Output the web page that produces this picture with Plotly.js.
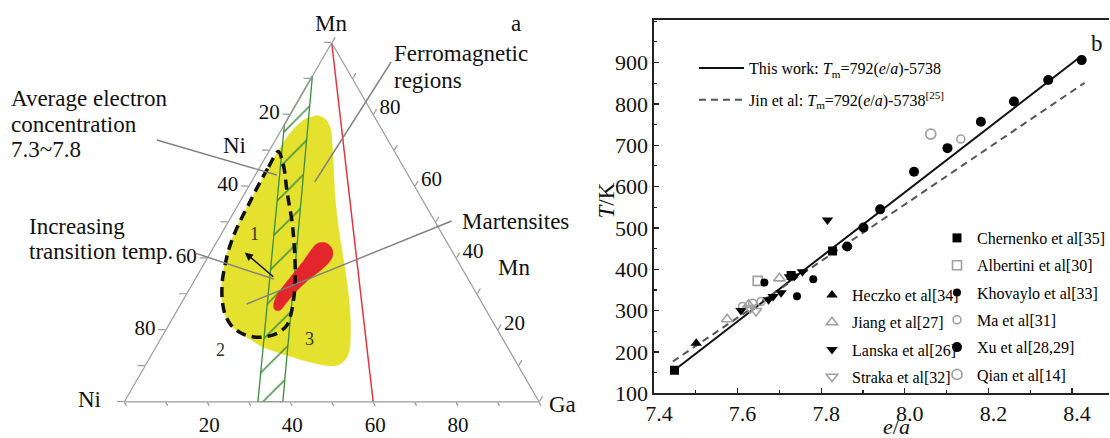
<!DOCTYPE html>
<html><head><meta charset="utf-8">
<script src="https://cdn.plot.ly/plotly-3.0.1.min.js"></script>
<style>html,body{margin:0;padding:0;background:#fff}#chart{width:1110px;height:438px}</style>
</head><body><div id="chart"></div>
<script>
// ================= Panel a : Ni-Mn-Ga ternary (at.%) =================
const ternTickVals = [0,10,20,30,40,50,60,70,80,90,100];
const ternTickText = ['','','80','','60','','40','','20','',''];

const yellowMn = [79.7,78.9,76.4,71.6,64.7,57.7,52.1,45.1,38.1,32.0,24.8,18.6,13.9,11.1,10.1,10.5,11.6,13.5,15.5,17.2,19.2,21.7,25.0,29.2,34.5,40.9,46.0,50.7,54.6,59.6,64.7,69.4,72.7,76.1,78.9];
const yellowGa = [6.4,8.8,11.4,14.3,18.1,21.9,25.2,29.5,34.0,37.8,42.0,45.2,47.2,47.2,45.8,41.8,37.3,31.1,25.3,22.1,18.2,14.6,11.6,8.9,6.4,4.2,3.2,2.6,2.5,2.3,2.2,2.2,2.3,2.9,4.4];

const bandMn = [0,77.2,90.7,0,0];
const bandGa = [32.2,0,0,38.2,32.2];

const redMn = [44.1,44.3,43.0,41.2,39.3,36.8,34.0,30.6,27.7,25.5,25.7,27.5,30.3,32.6,35.8,39.3,42.3,44.1];
const redGa = [24.5,26.3,28.4,29.7,30.0,29.1,27.4,26.0,25.3,24.7,23.4,22.3,22.0,22.3,22.9,23.6,23.9,24.5];

const loopMn = [69.7,64.9,59.9,54.9,51.0,47.1,42.3,37.9,33.4,28.4,24.5,21.4,19.2,18.1,18.2,19.3,21.3,23.9,28.4,34.0,39.5,45.1,50.1,55.2,59.6,64.1,67.4,69.7];
const loopGa = [2.3,2.1,2.2,2.5,2.7,3.1,4.0,5.3,6.9,9.4,12.0,15.0,18.5,22.2,25.2,27.5,28.5,28.1,26.6,24.2,21.4,18.3,15.4,12.1,9.3,6.6,4.3,2.3];

const redLineMn = [100,0];
const redLineGa = [0,60];

// ================= Panel b : T vs e/a =================
const fitX = [7.45, 8.42],  fitY = [157, 914];
const jinX = [7.445, 8.43], jinY = [177, 851];

const chernenkoX = [7.449, 7.728, 7.827];            const chernenkoY = [156, 385, 444];
const albertiniX = [7.648];                          const albertiniY = [372];
const khovayloX  = [7.664, 7.742, 7.781];            const khovayloY  = [368, 335, 376];
const maX        = [7.612, 7.636, 7.656, 8.134];     const maY        = [310, 318, 322, 715];
const xuX = [7.862, 7.901, 7.941, 8.022, 8.102, 8.182, 8.261, 8.343, 8.423];
const xuY = [455, 501, 545, 636, 693, 757, 806, 858, 906];
const qianX      = [8.062];                          const qianY      = [727];
const heczkoX    = [7.501];                          const heczkoY    = [221];
const jiangX     = [7.575, 7.626, 7.700];            const jiangY     = [279, 314, 378];
const lanskaX = [7.608, 7.674, 7.685, 7.704, 7.724, 7.736, 7.755, 7.815];
const lanskaY = [300, 326, 334, 343, 382, 384, 394, 519];
const strakaX    = [7.630, 7.644];                   const strakaY    = [306, 299];

const xTickVals = [7.4, 7.6, 7.8, 8.0, 8.2, 8.4];
const xTickText = ['7.4','7.6','7.8','8.0','8.2','8.4'];
const yTickVals = [100, 200, 300, 400, 500, 600, 700, 800, 900];
const yTickText = ['100','200','300','400','500','600','700','800','900'];

// ---------------------------------------------------
const SERIF = 'Liberation Serif';
const W = 1110, H = 438;
const PX = p => p / W, PY = p => 1 - p / H;
const cartX = (ga, mn) => ga.map((g, i) => g + mn[i] / 2);
const niOf = (ga, mn) => ga.map((g, i) => 100 - g - mn[i]);

const ternDomX = [PX(124.5), PX(539.5)];
const ternDomY = [PY(402), PY(42.5)];

const GRAY = '#9a9a9a';
const OPEN = '#a0a0a0';

const traces = [
  {type:'scatter', x:cartX(yellowGa,yellowMn), y:yellowMn, xaxis:'x2', yaxis:'y2', mode:'lines',
   fill:'toself', fillcolor:'#e4e12f', line:{color:'#e4e12f', width:0.5, shape:'spline', smoothing:1},
   showlegend:false, hoverinfo:'skip'},
  {type:'scatter', x:cartX(bandGa,bandMn), y:bandMn, xaxis:'x2', yaxis:'y2', mode:'lines',
   fill:'toself', fillcolor:'rgba(0,0,0,0)',
   fillpattern:{shape:'/', fgcolor:'#3c8c3c', size:22, solidity:0.07},
   line:{color:'#3c8c3c', width:1.3}, showlegend:false, hoverinfo:'skip'},
  {type:'scatter', x:cartX(redGa,redMn), y:redMn, xaxis:'x2', yaxis:'y2', mode:'lines',
   fill:'toself', fillcolor:'#e2262c', line:{color:'#e2262c', width:0.5, shape:'spline', smoothing:1},
   showlegend:false, hoverinfo:'skip'},
  {type:'scatter', x:cartX(loopGa,loopMn), y:loopMn, xaxis:'x2', yaxis:'y2', mode:'lines',
   line:{color:'#111', width:3.5, dash:'10px,6px', shape:'spline', smoothing:1},
   showlegend:false, hoverinfo:'skip'},
  {type:'scatterternary', a:redLineMn, b:niOf(redLineGa,redLineMn), c:redLineGa, mode:'lines',
   line:{color:'#e8343e', width:1.5}, showlegend:false, hoverinfo:'skip'},

  // panel b lines
  {type:'scatter', x:fitX, y:fitY, mode:'lines', line:{color:'#111', width:2},
   name:'This work: <i>T</i><sub>m</sub>=792(<i>e</i>/<i>a</i>)-5738', legend:'legend', legendgroup:'g1'},
  {type:'scatter', x:jinX, y:jinY, mode:'lines', line:{color:'#555', width:2, dash:'7px,5px'},
   name:'Jin et al: <i>T</i><sub>m</sub>=792(<i>e</i>/<i>a</i>)-5738<sup>[25]</sup>', legend:'legend', legendgroup:'g2'},

  // right legend column
  {type:'scatter', mode:'markers', x:chernenkoX, y:chernenkoY, name:'Chernenko et al[35]',
   marker:{symbol:'square', size:9, color:'#000'}, legend:'legend3', legendgroup:'c1'},
  {type:'scatter', mode:'markers', x:albertiniX, y:albertiniY, name:'Albertini et al[30]',
   marker:{symbol:'square-open', size:9, color:OPEN, line:{width:1.6}}, legend:'legend3', legendgroup:'c2'},
  {type:'scatter', mode:'markers', x:khovayloX, y:khovayloY, name:'Khovaylo et al[33]',
   marker:{symbol:'circle', size:8, color:'#000'}, legend:'legend3', legendgroup:'c3'},
  {type:'scatter', mode:'markers', x:maX, y:maY, name:'Ma et al[31]',
   marker:{symbol:'circle-open', size:8, color:OPEN, line:{width:1.6}}, legend:'legend3', legendgroup:'c4'},
  {type:'scatter', mode:'markers', x:xuX, y:xuY, name:'Xu et al[28,29]',
   marker:{symbol:'circle', size:10, color:'#000'}, legend:'legend3', legendgroup:'c5'},
  {type:'scatter', mode:'markers', x:qianX, y:qianY, name:'Qian et al[14]',
   marker:{symbol:'circle-open', size:10, color:OPEN, line:{width:1.8}}, legend:'legend3', legendgroup:'c6'},

  // left legend column
  {type:'scatter', mode:'markers', x:heczkoX, y:heczkoY, name:'Heczko et al[34]',
   marker:{symbol:'triangle-up', size:10, color:'#000'}, legend:'legend2', legendgroup:'l1'},
  {type:'scatter', mode:'markers', x:jiangX, y:jiangY, name:'Jiang et al[27]',
   marker:{symbol:'triangle-up-open', size:10, color:OPEN, line:{width:1.6}}, legend:'legend2', legendgroup:'l2'},
  {type:'scatter', mode:'markers', x:lanskaX, y:lanskaY, name:'Lanska et al[26]',
   marker:{symbol:'triangle-down', size:10, color:'#000'}, legend:'legend2', legendgroup:'l3'},
  {type:'scatter', mode:'markers', x:strakaX, y:strakaY, name:'Straka et al[32]',
   marker:{symbol:'triangle-down-open', size:10, color:OPEN, line:{width:1.6}}, legend:'legend2', legendgroup:'l4'}
];

const ternAxis = (len) => ({
  min:0, tickmode:'array', tickvals:ternTickVals, ticktext:ternTickText,
  ticks:'outside', ticklen:len, tickwidth:1.2, tickcolor:GRAY,
  showline:true, linecolor:GRAY, linewidth:1.2, showgrid:false,
  tickfont:{family:SERIF, size:21, color:'#111'}, title:{text:''}
});

const ann = (text, px, py, o = {}) => Object.assign({
  text, x:PX(px), y:PY(py), xref:'paper', yref:'paper', showarrow:false,
  xanchor:'left', yanchor:'middle', font:{family:SERIF, size:23, color:'#111'}
}, o);
const C = {xanchor:'center'};
const line = (x0, y0, x1, y1, color = '#808080') => ({
  type:'line', xref:'paper', yref:'paper', x0:PX(x0), y0:PY(y0), x1:PX(x1), y1:PY(y1),
  line:{color, width:1.4}
});
const small = {xanchor:'center', font:{family:SERIF, size:18, color:'#333'}};

const legendBase = {xanchor:'left', yanchor:'top', bgcolor:'rgba(0,0,0,0)', borderwidth:0,
  font:{family:SERIF, size:16, color:'#000'}, traceorder:'grouped'};

const axisFont = {family:SERIF, size:22, color:'#111'};

const layout = {
  width:W, height:H, margin:{l:0, r:0, t:0, b:0},
  paper_bgcolor:'#fff', plot_bgcolor:'rgba(0,0,0,0)',
  font:{family:SERIF, color:'#111'},
  showlegend:true,
  ternary:{domain:{x:ternDomX, y:ternDomY}, sum:100, bgcolor:'rgba(0,0,0,0)',
    aaxis:ternAxis(7), baxis:ternAxis(4), caxis:ternAxis(6)},
  xaxis2:{domain:ternDomX, range:[0,100], visible:false, anchor:'y2', fixedrange:true},
  yaxis2:{domain:ternDomY, range:[0,100], visible:false, anchor:'x2', fixedrange:true},
  xaxis:{domain:[PX(654.6), 1], range:[7.4, 8.4884], anchor:'y',
    showline:true, linecolor:'#222', linewidth:1.6, mirror:true, showgrid:false, zeroline:false,
    tickmode:'array', tickvals:xTickVals, ticktext:xTickText,
    ticks:'inside', ticklen:5, tickwidth:1.3, tickcolor:'#222',
    minor:{dtick:0.1, tick0:7.4, ticks:'inside', ticklen:3, tickwidth:1.1, tickcolor:'#222'},
    tickfont:axisFont, ticklabelshift:5},
  yaxis:{domain:[PY(393.3), PY(20)], range:[100, 1003], anchor:'x',
    showline:true, linecolor:'#222', linewidth:1.6, showgrid:false, zeroline:false,
    tickmode:'array', tickvals:yTickVals, ticktext:yTickText,
    ticks:'inside', ticklen:5, tickwidth:1.3, tickcolor:'#222',
    minor:{dtick:50, tick0:100, ticks:'inside', ticklen:3, tickwidth:1.1, tickcolor:'#222'},
    tickfont:axisFont},
  legend:Object.assign({}, legendBase, {x:PX(694), y:PY(51), itemwidth:45, tracegroupgap:8}),
  legend2:Object.assign({}, legendBase, {x:PX(812), y:PY(278), tracegroupgap:3.5}),
  legend3:Object.assign({}, legendBase, {x:PX(938), y:PY(221), tracegroupgap:3.5}),
  shapes:[
    line(157, 140, 277, 175),
    line(391.5, 62, 315, 182),
    line(452, 221, 247, 304),
    line(196, 253.3, 274, 279)
  ],
  annotations:[
    ann('Average electron', 9, 98.3),
    ann('concentration', 9, 124),
    ann('7.3~7.8', 9, 149.3),
    ann('Ferromagnetic', 392.5, 53.3),
    ann('regions', 392.5, 80),
    ann('Martensites', 460, 221.7),
    ann('Increasing', 26.7, 226.7),
    ann('transition temp.', 26.7, 251.7),
    ann('Ni', 235, 146, C),
    ann('Mn', 514, 267.5, C),
    ann('Mn', 331.5, 23.3, C),
    ann('Ni', 90, 399, C),
    ann('Ga', 563, 404, C),
    ann('a', 516, 23, C),
    ann('1', 254.5, 234, small),
    ann('2', 220.5, 350, small),
    ann('3', 310, 339, small),
    {text:'', x:PX(245), y:PY(252.5), xref:'paper', yref:'paper', showarrow:true,
     ax:30, ay:25.5, axref:'pixel', ayref:'pixel', arrowhead:2, arrowsize:1.1, arrowwidth:1.5, arrowcolor:'#111'},
    ann('b', 1098, 43, C),
    ann('<i>e</i>/<i>a</i>', 897, 426, {xanchor:'center', font:{family:SERIF, size:22, color:'#111'}}),
    ann('<i>T</i>/K', 607, 200, {xanchor:'center', textangle:-90})
  ]
};

Plotly.newPlot('chart', traces, layout, {displayModeBar:false, staticPlot:true});
</script>
</body></html>
